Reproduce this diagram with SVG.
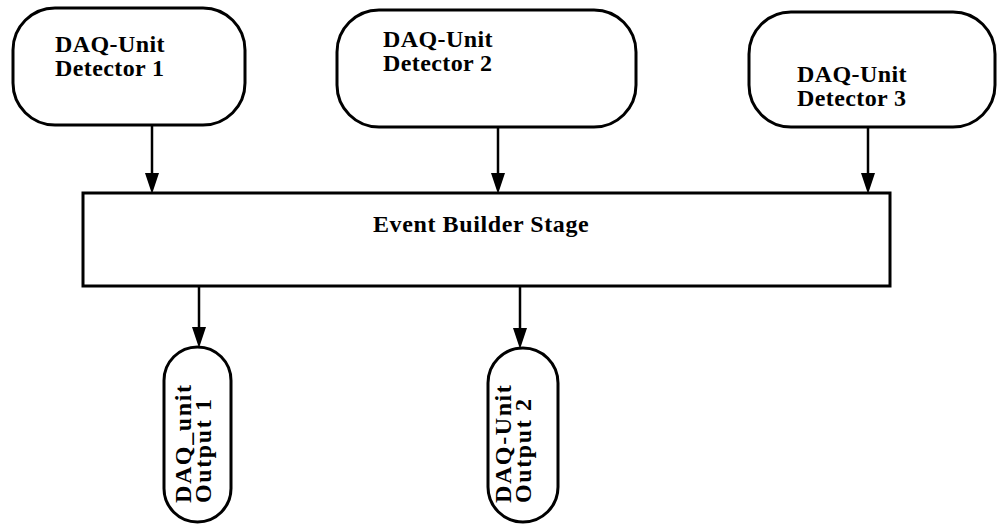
<svg xmlns="http://www.w3.org/2000/svg" width="997" height="526" viewBox="0 0 997 526">
<style>
.box{fill:#fff;stroke:#000;stroke-width:3}
.lbl{font-family:"Liberation Serif","Times New Roman",serif;font-weight:bold;font-size:24px;fill:#000;letter-spacing:0.4px}
.vl{font-family:"Liberation Serif","Times New Roman",serif;font-weight:bold;font-size:24px;fill:#000;letter-spacing:1.6px}
.conn{stroke:#000;stroke-width:2.5;fill:none}
.head{fill:#000}
</style>
<rect width="997" height="526" fill="#fff"/>
<g id="connectors">
<line class="conn" x1="152" y1="125" x2="152" y2="180"/>
<path class="head" d="M145,173 L159,173 L152,194 Z"/>
<line class="conn" x1="498" y1="127" x2="498" y2="180"/>
<path class="head" d="M491,173 L505,173 L498,194 Z"/>
<line class="conn" x1="868" y1="127" x2="868" y2="180"/>
<path class="head" d="M861,173 L875,173 L868,194 Z"/>
<line class="conn" x1="199" y1="286" x2="199" y2="334"/>
<path class="head" d="M192,327 L206,327 L199,348 Z"/>
<line class="conn" x1="520" y1="286" x2="520" y2="335"/>
<path class="head" d="M513,328 L527,328 L520,349 Z"/>
</g>
<g id="det1">
<rect class="box" x="13" y="8" width="232" height="117" rx="42" ry="42"/>
<text class="lbl" x="55" y="52">DAQ-Unit</text>
<text class="lbl" x="55" y="76">Detector 1</text>
</g>
<g id="det2">
<rect class="box" x="337" y="10" width="299" height="117" rx="42" ry="42"/>
<text class="lbl" x="383" y="47">DAQ-Unit</text>
<text class="lbl" x="383" y="71">Detector 2</text>
</g>
<g id="det3">
<rect class="box" x="749" y="12" width="246" height="115" rx="42" ry="42"/>
<text class="lbl" x="797" y="82">DAQ-Unit</text>
<text class="lbl" x="797" y="106">Detector 3</text>
</g>
<g id="event">
<rect class="box" x="83" y="193" width="807" height="93"/>
<text class="lbl" x="373" y="232" style="letter-spacing:0.6px">Event Builder Stage</text>
</g>
<g id="out1">
<rect class="box" x="164" y="347" width="67" height="175" rx="33.5" ry="33.5"/>
<text class="vl" transform="translate(191,503) rotate(-90)">DAQ_unit</text>
<text class="vl" transform="translate(211,503) rotate(-90)">Output 1</text>
</g>
<g id="out2">
<rect class="box" x="488" y="348" width="70" height="174" rx="35" ry="35"/>
<text class="vl" transform="translate(511,503) rotate(-90)">DAQ-Unit</text>
<text class="vl" transform="translate(531,503) rotate(-90)">Output 2</text>
</g>
</svg>
